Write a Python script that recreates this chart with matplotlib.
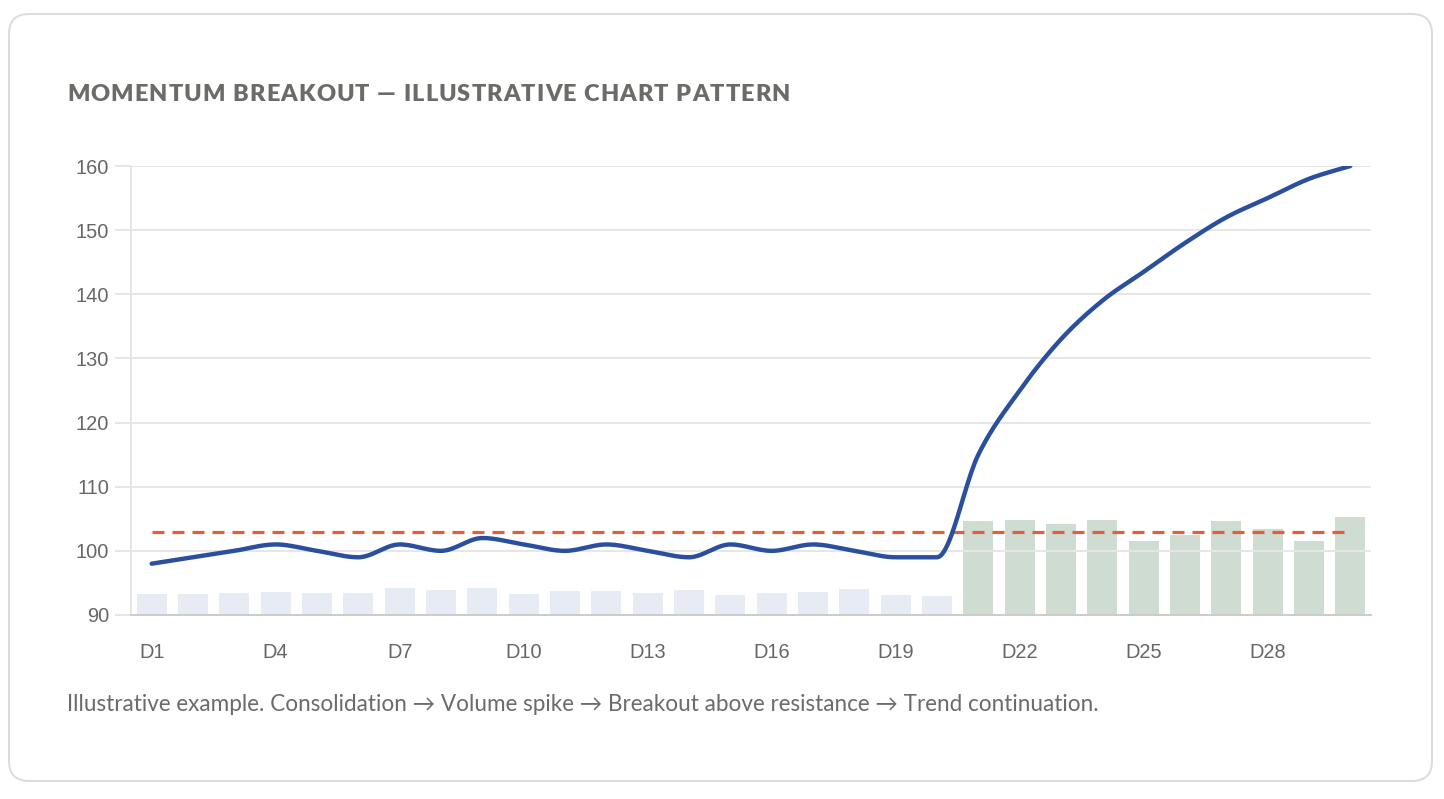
import numpy as np
import matplotlib
matplotlib.use("Agg")
import matplotlib.pyplot as plt
from matplotlib.patches import FancyBboxPatch
from matplotlib.transforms import IdentityTransform
from matplotlib.font_manager import FontProperties
import matplotlib.colors as mcolors

plt.rcParams['lines.scale_dashes'] = False

# ---------------- data ----------------
days = [f"D{i}" for i in range(1, 31)]
price = [98, 99, 100, 101, 100, 99, 101, 100, 102, 101,
         100, 101, 100, 99, 101, 100, 101, 100, 99, 99,
         115, 125, 133, 139, 143.5, 148, 152, 155, 158, 160]
volume = [1.12, 1.10, 1.18, 1.23, 1.18, 1.19, 1.43, 1.32, 1.44, 1.14,
          1.30, 1.28, 1.16, 1.34, 1.07, 1.19, 1.23, 1.39, 1.07, 1.02,
          5.02, 5.06, 4.88, 5.09, 3.97, 4.26, 5.01, 4.61, 3.94, 5.24]
resistance = 103
breakout_start = 20  # index of first breakout day (D21)
y_ticks = [90, 100, 110, 120, 130, 140, 150, 160]
x_tick_idx = list(range(0, 30, 3))

title = "MOMENTUM BREAKOUT — ILLUSTRATIVE CHART PATTERN"
footer = ("Illustrative example. Consolidation \u2192 Volume spike \u2192 "
          "Breakout above resistance \u2192 Trend continuation.")

# ---------------- figure ----------------
W, H = 1444, 799
DPI = 100
fig = plt.figure(figsize=(W / DPI, H / DPI), dpi=DPI)
fig.patch.set_facecolor("white")

def px(v):  # pixels -> points
    return v * 72.0 / DPI

# card
card = FancyBboxPatch((9, H - 781), 1432 - 9, 781 - 14,
                      boxstyle="round,pad=0,rounding_size=20",
                      transform=IdentityTransform(), facecolor="white",
                      edgecolor="#dcdcda", linewidth=px(2), zorder=-10)
fig.patches.append(card)

# axes
left, right, top, bottom = 131, 1371, 166, 615
ax = fig.add_axes([left / W, (H - bottom) / H, (right - left) / W, (bottom - top) / H])
ax2 = ax.twinx()
ax2.set_zorder(1)
ax.set_zorder(2)
ax.patch.set_visible(False)
ax2.patch.set_visible(False)

x = np.arange(len(days))

# volume bars
blue_bar = mcolors.to_rgba("#2a4f9e", 0.11)
green_bar = mcolors.to_rgba("#50825f", 0.28)
bar_colors = [blue_bar if i < breakout_start else green_bar for i in range(len(days))]
ax2.bar(x, volume, width=0.72, color=bar_colors, linewidth=0)
ax2.set_ylim(0, 24)
ax2.set_yticks([])
for s in ax2.spines.values():
    s.set_visible(False)

# monotone cubic (Chart.js style) rendering of the price line
def monotone_path(xs, ys, samples=24):
    xs = np.asarray(xs, float); ys = np.asarray(ys, float)
    n = len(xs)
    d = np.diff(ys) / np.diff(xs)
    m = np.zeros(n)
    m[0] = d[0]; m[-1] = d[-1]
    for i in range(1, n - 1):
        m[i] = 0.0 if d[i - 1] * d[i] <= 0 else (d[i - 1] + d[i]) / 2
    for i in range(n - 1):
        if abs(d[i]) < 1e-9:
            m[i] = m[i + 1] = 0
            continue
        a = m[i] / d[i]; b = m[i + 1] / d[i]
        s = a * a + b * b
        if s > 9:
            t = 3 / np.sqrt(s)
            m[i] = a * t * d[i]; m[i + 1] = b * t * d[i]
    px_, py_ = [], []
    for i in range(n - 1):
        h = xs[i + 1] - xs[i]
        t = np.linspace(0, 1, samples, endpoint=(i == n - 2))
        h00 = 2 * t**3 - 3 * t**2 + 1
        h10 = t**3 - 2 * t**2 + t
        h01 = -2 * t**3 + 3 * t**2
        h11 = t**3 - t**2
        px_.append(xs[i] + t * h)
        py_.append(h00 * ys[i] + h10 * h * m[i] + h01 * ys[i + 1] + h11 * h * m[i + 1])
    return np.concatenate(px_), np.concatenate(py_)

lx, ly = monotone_path(x, price)
ax.plot(lx, ly, color="#2a4f9e", linewidth=px(4.4), solid_capstyle="round",
        solid_joinstyle="round", zorder=4)
ax.plot(x, [resistance] * len(x), color="#e0603e", linewidth=px(3.2),
        dashes=(px(12), px(8)), zorder=3)

ax.set_xlim(-0.5, len(days) - 0.5)
ax.set_ylim(90, 160)
ax.set_yticks(y_ticks)
ax.set_xticks(x_tick_idx)
ax.set_xticklabels([days[i] for i in x_tick_idx])

tick_font = "Liberation Sans"
ax.tick_params(axis="y", length=px(16), width=px(2), color="#e6e6e6",
               pad=px(6), labelsize=px(20), labelcolor="#666666")
ax.tick_params(axis="x", length=0, pad=px(28), labelsize=px(20), labelcolor="#666666")
for lab in ax.get_xticklabels() + ax.get_yticklabels():
    lab.set_fontfamily(tick_font)

ax.yaxis.grid(True, color="#e6e6e6", linewidth=px(2))
ax.xaxis.grid(False)
ax.set_axisbelow(True)
for s in ["top", "right"]:
    ax.spines[s].set_visible(False)
ax.spines["left"].set_color("#e6e6e6")
ax.spines["left"].set_linewidth(px(2))
ax.spines["bottom"].set_color("#cccccc")
ax.spines["bottom"].set_linewidth(px(2))

# ---------------- texts ----------------
renderer = fig.canvas.get_renderer()

# title with letter spacing
tprop = FontProperties(family="Lato", weight="heavy", size=px(23.5))
widths = [renderer.get_text_width_height_descent(c, tprop, ismath=False)[0] for c in title]
target_w = 790 - 67
spacing = (target_w - sum(widths)) / (len(title) - 1)
cx = 67.0
baseline_y = 101
for c, w in zip(title, widths):
    if c != " ":
        fig.text(cx / W, (H - baseline_y) / H, c, fontproperties=tprop,
                 color="#6b6b68", ha="left", va="baseline")
    cx += w + spacing

# footer fitted to width
fprop = FontProperties(family="Lato", size=px(20))
fw = renderer.get_text_width_height_descent(footer, fprop, ismath=False)[0]
fprop.set_size(px(20) * (1099 - 67) / fw)
fig.text(67 / W, (H - 711) / H, footer, fontproperties=fprop, color="#6b6b6b",
         ha="left", va="baseline")

fig.savefig("out.png", dpi=DPI, facecolor="white")
